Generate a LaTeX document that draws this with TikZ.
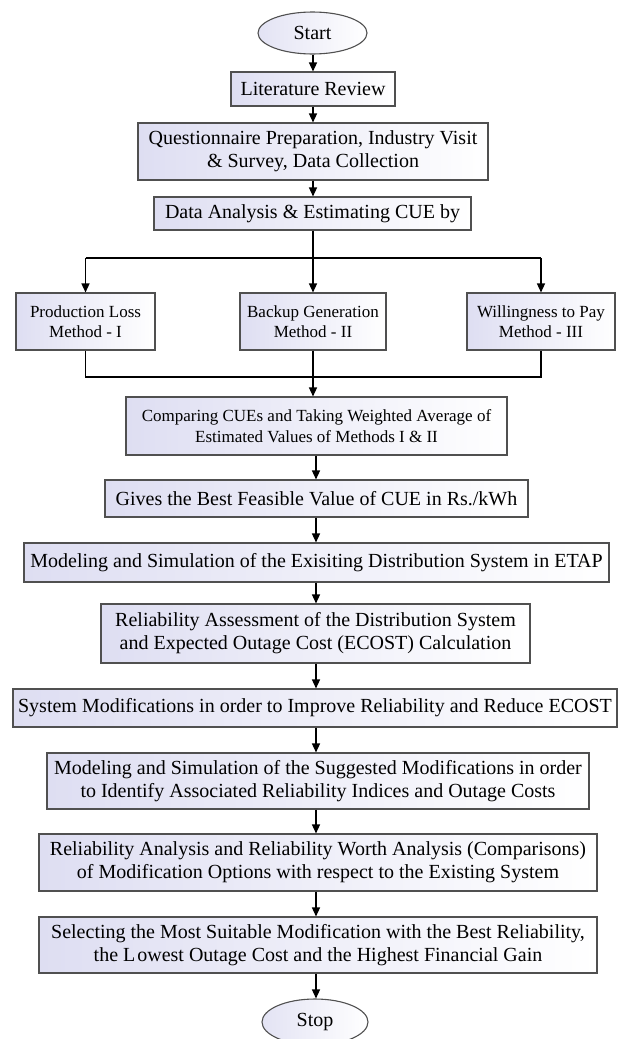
\documentclass[tikz,border=0pt]{standalone}
\usepackage{fontspec}
\setmainfont{Liberation Serif}
\usetikzlibrary{arrows.meta,shapes.geometric}
\definecolor{boxL}{RGB}{222,222,242}
\definecolor{edge}{RGB}{80,80,80}
\begin{document}
\begin{tikzpicture}[x=1pt,y=-1pt,
  box/.style={draw=edge, line width=1.1pt, left color=boxL, right color=white,
    inner sep=0pt, align=center, font=\fontsize{20}{23}\selectfont},
  sbox/.style={box, font=\fontsize{17}{20.5}\selectfont},
  term/.style={ellipse, draw=edge, line width=1.1pt, left color=boxL!85, right color=white,
    inner sep=0pt, font=\fontsize{20}{23}\selectfont},
  arr/.style={line width=1.4pt, -{Triangle[length=9pt,width=8pt]}},
  ln/.style={line width=1.4pt}]
\useasboundingbox (0,0) rectangle (619,1039);

\node[term, minimum width=109pt, minimum height=42pt] (start) at (312.5,33) {Start};
\node[box, minimum width=164pt, minimum height=34pt] (lit) at (313,89) {Literature Review};
\node[box, minimum width=350pt, minimum height=57pt] (quest) at (313,151.5) {Questionnaire Preparation, Industry Visit\\\& Survey, Data Collection};
\node[box, minimum width=317pt, minimum height=33pt] (data) at (312.5,213.5) {Data Analysis \& Estimating CUE by};

\node[sbox, minimum width=139pt, minimum height=57pt] (pl) at (85.5,321.5) {Production Loss\\Method - I};
\node[sbox, minimum width=146pt, minimum height=57pt] (bg) at (313,321.5) {Backup Generation\\Method - II};
\node[sbox, minimum width=148pt, minimum height=57pt] (wp) at (541,321.5) {Willingness to Pay\\Method - III};

\node[sbox, minimum width=381pt, minimum height=58pt] (comp) at (316.5,426) {Comparing CUEs and Taking Weighted Average of\\Estimated Values of Methods I \& II};
\node[box, minimum width=423pt, minimum height=37pt] (gives) at (316.5,498.5) {Gives the Best Feasible Value of CUE in Rs./kWh};
\node[box, minimum width=585pt, minimum height=39pt] (mexist) at (316.5,562.5) {Modeling and Simulation of the Exisiting Distribution System in ETAP};
\node[box, minimum width=429pt, minimum height=59pt] (rass) at (315.5,633.5) {Reliability Assessment of the Distribution System\\and Expected Outage Cost (ECOST) Calculation};
\node[box, minimum width=604pt, minimum height=38pt] (sysmod) at (315,708) {System Modifications in order to Improve Reliability and Reduce ECOST};
\node[box, minimum width=542pt, minimum height=56pt] (msugg) at (318,781) {Modeling and Simulation of the Suggested Modifications in order\\to Identify Associated Reliability Indices and Outage Costs};
\node[box, minimum width=558pt, minimum height=57pt] (ranal) at (318,862.5) {Reliability Analysis and Reliability Worth Analysis (Comparisons)\\of Modification Options with respect to the Existing System};
\node[box, minimum width=558pt, minimum height=56pt] (select) at (318,945) {Selecting the Most Suitable Modification with the Best Reliability,\\the L\kern2pt owest Outage Cost and the Highest Financial Gain};
\node[term, minimum width=106pt, minimum height=46pt] (stop) at (315,1022) {Stop};

\coordinate (sA) at (313,0);
\coordinate (sB) at (316,0);
\coordinate (br) at (313,258);
\coordinate (mg) at (313,377);

\draw[arr] (start.south -| sA) -- (lit.north -| sA);
\draw[arr] (lit.south -| sA) -- (quest.north -| sA);
\draw[arr] (quest.south -| sA) -- (data.north -| sA);
\draw[ln] (data.south -| sA) -- (br);
\draw[arr] (br) -- (bg.north -| sA);
\draw[ln] (pl.north |- br) -- (wp.north |- br);
\draw[arr] (pl.north |- br) -- (pl.north);
\draw[arr] (wp.north |- br) -- (wp.north);
\draw[ln] (pl.south) -- (pl.south |- mg) -- (wp.south |- mg) -- (wp.south);
\draw[arr] (bg.south -| sA) -- (comp.north -| sA);
\draw[arr] (comp.south -| sB) -- (gives.north -| sB);
\draw[arr] (gives.south -| sB) -- (mexist.north -| sB);
\draw[arr] (mexist.south -| sB) -- (rass.north -| sB);
\draw[arr] (rass.south -| sB) -- (sysmod.north -| sB);
\draw[arr] (sysmod.south -| sB) -- (msugg.north -| sB);
\draw[arr] (msugg.south -| sB) -- (ranal.north -| sB);
\draw[arr] (ranal.south -| sB) -- (select.north -| sB);
\draw[arr] (select.south -| sB) -- (stop.north -| sB);
\end{tikzpicture}
\end{document}
